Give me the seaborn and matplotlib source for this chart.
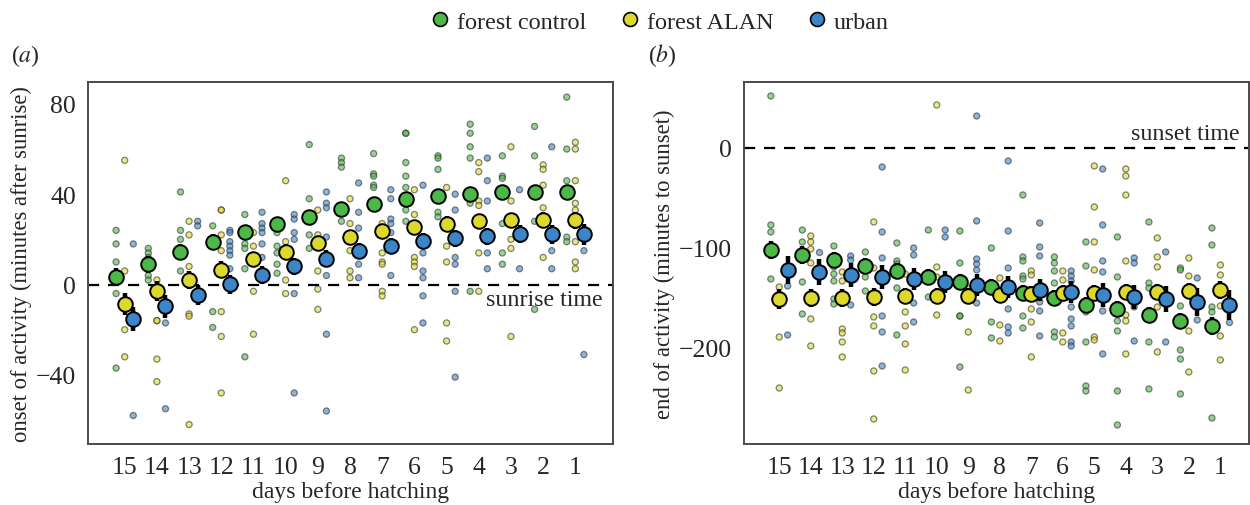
import numpy as np
import pandas as pd
import matplotlib
matplotlib.use("Agg")
import matplotlib.pyplot as plt
from matplotlib.lines import Line2D
import seaborn as sns

# days before hatching, left to right on the x axis
DAYS = [str(d) for d in range(15, 0, -1)]
GROUPS = ["forest control", "forest ALAN", "urban"]
COLORS = ["#4cb848", "#dcd92c", "#3a86c8"]

# (a) onset of activity, group means and their error half-widths (minutes after sunrise)
ctrl_onset = [3.4, 9.0, 14.3, 19.0, 23.2, 27.0, 30.1, 33.4, 35.6, 37.7, 39.3, 40.3, 40.9, 41.1, 40.8]
alan_onset = [-8.7, -2.9, 1.9, 6.6, 11.1, 14.6, 18.2, 21.1, 23.6, 25.5, 27.0, 28.1, 28.5, 28.5, 28.4]
urban_onset = [-15.2, -9.6, -4.6, 0.1, 4.4, 8.1, 11.5, 14.8, 17.0, 19.2, 20.4, 21.4, 22.2, 22.3, 22.2]
ctrl_onset_se = [4.0, 3.8, 3.5, 3.3, 3.0, 3.0, 2.8, 2.8, 2.8, 2.8, 2.8, 2.8, 2.8, 3.0, 3.2]
alan_onset_se = [4.8, 4.4, 4.0, 3.8, 3.5, 3.3, 3.2, 3.2, 3.2, 3.2, 3.2, 3.2, 3.3, 3.5, 3.8]
urban_onset_se = [5.4, 5.0, 4.6, 4.2, 4.0, 3.8, 3.6, 3.6, 3.6, 3.6, 3.6, 3.8, 4.0, 4.2, 4.5]

# (a) individual nests, one list per day
ctrl_onset_raw = [
    [24, 18, 10, -4, -37], [16, 14, 12, 4, 2], [41, 24, 20, 6], [26, -12, -19],
    [31, 18, 16, 7, -32], [23, 17, 14, 9, 5], [62, 38, 22, 16], [56, 54, 52, 28],
    [58, 49, 48, 44, 43], [67, 67, 54, 48, 43, 33, 28], [57, 56, 51, 32, 30],
    [71, 67, 61, 56, 36, -3], [57, 48, 47, 27, 14, 9], [70, 57, 28, -11],
    [83, 60, 46, 21, 19],
]
alan_onset_raw = [
    [55, 6, -20, -32], [2, -16, -16, -33, -43], [28, 22, 8, -13, -14, -62],
    [33, 33, 22, 15, -12, -23, -48], [23, 17, -3, -22], [46, 19, 2, -4],
    [33, 22, 6, -2, -11], [38, 27, 15, 6, 3], [27, 14, 10, 9, -3, -5],
    [42, 31, 12, 10, 8, -20], [43, 27, 17, 10, -17, -25], [54, 50, 37, 35, 14, -3],
    [61, 37, 20, 16, -23], [53, 51, 44, 34, 12], [63, 60, 46, 36, 33, 19, 10, 7],
]
urban_onset_raw = [
    [18, -58], [-17, -55], [28, 26], [24, 23, 19, 17, 15, 13, 7],
    [32, 27, 25, 23, 18, 12], [31, 29, 23, 20, -4, -48], [41, 36, 34, 21, 4, -22, -56],
    [45, 32, 25, 9, 3], [42, 38, 29, 27, 23, 4], [44, 14, 6, 3, -5, -17],
    [40, 33, 12, 9, -3, -41], [56, 46, 37, 14, 7], [42, 7], [61, 15, 7], [15, -31],
]

# (b) end of activity (minutes to sunset)
ctrl_end = [-101.7, -106.7, -112, -117.7, -123.3, -128.7, -133.7, -139.3, -145.3, -150, -156.7, -161, -167, -173, -177.7]
alan_end = [-151, -150.3, -150, -149.3, -148.3, -147.7, -147.7, -147, -146.3, -145, -145.3, -143.7, -143.7, -143.3, -142]
urban_end = [-122, -123.7, -127, -129.3, -131, -133.7, -137, -138.7, -141.7, -143.7, -147, -148.7, -151, -154.3, -156.7]
ctrl_end_se = [9, 9, 8, 8, 8, 8, 8, 8, 8, 8, 8, 8, 8, 8, 9]
alan_end_se = [10, 9, 9, 9, 8, 8, 8, 8, 8, 8, 8, 8, 8, 8, 9]
urban_end_se = [14, 13, 12, 12, 11, 11, 11, 11, 11, 11, 12, 12, 13, 14, 15]

ctrl_end_raw = [
    [52, -77, -84, -131], [-82, -94, -134, -166], [-98, -119, -126, -133, -151, -156],
    [-104, -129, -143], [-95, -113, -116, -140, -187], [-82, -149],
    [-83, -115, -168, -168, -219], [-100, -174, -190], [-47, -109, -113, -128, -131, -168, -180],
    [-109, -115, -123, -135, -184, -189], [-94, -118, -164, -194, -238, -243],
    [-89, -129, -173, -183, -243, -277], [-74, -135, -140, -194, -241],
    [-120, -122, -158, -202, -211, -246], [-80, -97, -159, -164, -270],
]
alan_end_raw = [
    [-139, -189, -240], [-88, -94, -101, -115, -171, -198], [-124, -133, -181, -185, -194, -209],
    [-74, -120, -169, -178, -223, -271], [-126, -164, -178, -196, -222], [43, -119, -129, -167],
    [-141, -184, -242], [-130, -177, -193], [-123, -127, -161, -174, -209],
    [-123, -132, -185, -194], [-18, -59, -94, -122, -189, -192],
    [-21, -28, -47, -113, -167, -173, -206], [-90, -109, -119, -159, -204],
    [-110, -128, -183, -224], [-117, -127, -158, -188, -212],
]
urban_end_raw = [
    [-138, -187], [-104], [-108, -112, -157], [-19, -84, -110, -168, -184, -218],
    [-100, -107, -155, -174], [-82, -89], [32, -73, -111, -116, -122, -155],
    [-13, -83, -120, -161, -179, -185], [-75, -99, -108, -154, -163, -188],
    [-123, -128, -133, -159, -171, -178, -194, -198], [-21, -77, -113, -124, -163, -206],
    [-110, -115, -159, -193], [-104, -194], [-130, -172], [-174],
]

DODGE = 0.8 / 3  # same spacing stripplot uses for three hue levels


def raw_frame(series):
    rows = []
    for group, per_day in zip(GROUPS, series):
        for day, values in zip(DAYS, per_day):
            rows += [(day, group, v) for v in values]
    return pd.DataFrame(rows, columns=["day", "group", "value"])


def mean_frame(series):
    rows = []
    for group, values in zip(GROUPS, series):
        rows += [(day, group, v) for day, v in zip(DAYS, values)]
    return pd.DataFrame(rows, columns=["day", "group", "value"])


def draw_panel(ax, raw, means, ses, ylabel):
    sns.stripplot(data=raw_frame(raw), x="day", y="value", hue="group",
                  order=DAYS, hue_order=GROUPS, palette=COLORS, dodge=True,
                  jitter=False, size=4.4, linewidth=0.9, edgecolor="#333333",
                  alpha=0.6, legend=False, zorder=1, ax=ax)
    # error bars sit under the mean markers
    for i, (m, se) in enumerate(zip(means, ses)):
        x = np.arange(len(DAYS)) + (i - 1) * DODGE
        ax.errorbar(x, m, yerr=se, fmt="none", ecolor="black",
                    elinewidth=3.2, capsize=0, zorder=3)
    sns.pointplot(data=mean_frame(means), x="day", y="value", hue="group",
                  order=DAYS, hue_order=GROUPS, palette=COLORS,
                  dodge=2 * DODGE, errorbar=None, markers="o", linestyle="none",
                  markersize=10.5, markeredgecolor="black", markeredgewidth=1.4,
                  legend=False, zorder=4, ax=ax)
    ax.axhline(0, color="black", lw=1.6, dashes=(5, 4), zorder=2)
    ax.set_xlabel("days before hatching", fontsize=17, labelpad=2.5)
    ax.set_ylabel(ylabel, fontsize=16.3, labelpad=3)
    ax.tick_params(axis="both", labelsize=18.5, length=6, width=1.4,
                   color="black", direction="out", pad=2.5)
    for s in ax.spines.values():
        s.set_color("#4a4a4a")
        s.set_linewidth(1.4)


sns.set_style("white")
plt.rcParams["font.family"] = ["Liberation Serif", "DejaVu Serif"]
plt.rcParams["mathtext.fontset"] = "stix"

fig = plt.figure(figsize=(12.5, 5.06), dpi=100)
ax_a = fig.add_axes([0.0704, 0.1206, 0.42, 0.7154])
ax_b = fig.add_axes([0.5949, 0.1206, 0.4043, 0.7154])

draw_panel(ax_a, [ctrl_onset_raw, alan_onset_raw, urban_onset_raw],
           [ctrl_onset, alan_onset, urban_onset],
           [ctrl_onset_se, alan_onset_se, urban_onset_se],
           "onset of activity (minutes after sunrise)")
ax_a.set_xlim(-1.14, 15.17)
ax_a.set_ylim(-70.6, 89.7)
ax_a.set_yticks([-40, 0, 40, 80])
ax_a.text(14.85, -1.8, "sunrise time", ha="right", va="top", fontsize=17.3)

draw_panel(ax_b, [ctrl_end_raw, alan_end_raw, urban_end_raw],
           [ctrl_end, alan_end, urban_end],
           [ctrl_end_se, alan_end_se, urban_end_se],
           "end of activity (minutes to sunset)")
ax_b.set_xlim(-1.13, 14.91)
ax_b.set_ylim(-296, 66)
ax_b.set_yticks([-200, -100, 0])
ax_b.text(14.62, 4, "sunset time", ha="right", va="bottom", fontsize=17.3)

fig.text(0.009, 0.89, r"($\it{a}$)", fontsize=17, va="center")
fig.text(0.518, 0.89, r"($\it{b}$)", fontsize=17, va="center")

handles = [Line2D([], [], marker="o", linestyle="none", markersize=10,
                  markerfacecolor=c, markeredgecolor="black", markeredgewidth=1.2)
           for c in COLORS]
fig.legend(handles, GROUPS, loc="upper center", bbox_to_anchor=(0.527, 1.02),
           ncol=3, frameon=False, fontsize=17.4, handletextpad=0.2,
           columnspacing=1.3, handlelength=1.0)

fig.savefig("out.png", dpi=100)
